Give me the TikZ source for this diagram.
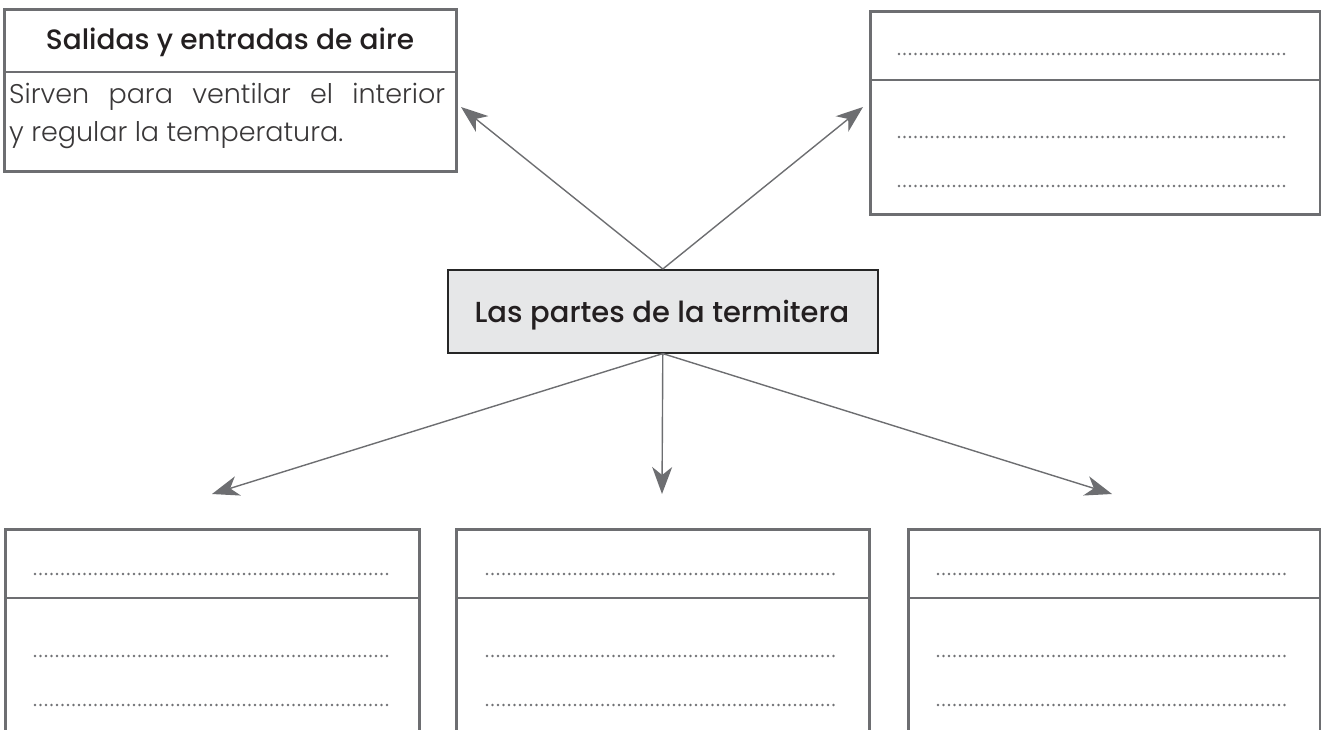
\documentclass[tikz,border=0pt]{standalone}
\usepackage{fontspec}
\setmainfont{Poppins}
\IfFontExistsTF{Poppins Light}{\newfontfamily\lightfont{Poppins Light}}{%
  \IfFontExistsTF{Poppins-Light}{\newfontfamily\lightfont{Poppins-Light}}{\newfontfamily\lightfont{Poppins}}}
\IfFontExistsTF{Poppins Medium}{\newfontfamily\midfont{Poppins Medium}}{%
  \IfFontExistsTF{Poppins-Medium}{\newfontfamily\midfont{Poppins-Medium}}{\newfontfamily\midfont{Poppins}}}
\usetikzlibrary{arrows.meta}
\definecolor{linegray}{HTML}{6D6E71}
\definecolor{dotgray}{HTML}{707174}
\definecolor{boxfill}{HTML}{E6E7E8}
\definecolor{textdark}{HTML}{231F20}
\definecolor{textsoft}{HTML}{3A3839}
\tikzset{
    box/.style={draw=linegray, line width=2.8pt, anchor=north west, inner sep=0pt},
    rule/.style={linegray, line width=2.8pt},
    conn/.style={draw=linegray, line width=1.4pt, -{Stealth[length=27pt,width=20pt,inset=8pt]}},
    dots/.style={dotgray, line width=2.8pt, line cap=round, dash pattern=on 0pt off 5.5pt},
    head/.style={anchor=base, inner sep=0pt, text=textdark, font=\midfont\fontsize{28}{32}\selectfont},
    body/.style={anchor=base west, inner sep=0pt, text=textsoft, font=\lightfont\fontsize{27}{32}\selectfont}
}
\begin{document}
\begin{tikzpicture}[x=1pt,y=-1pt]
    \useasboundingbox (0,0) rectangle (1321,729);
    \clip (0,0) rectangle (1321,729);
    % upper boxes
    \node [box, minimum width=452pt, minimum height=162pt] (aire) at (3,8) {};
    \draw [rule] (3,72) -- (455,72);
    \node [head] (aireT) at (230,49) {Salidas y entradas de aire};
    \node [body] (aireA) at (9,103) {\makebox[436pt][s]{Sirven para ventilar el interior}};
    \node [body] (aireB) at (9,141) {y regular la temperatura.};
    \node [box, minimum width=450pt, minimum height=203pt] (otra) at (869,10) {};
    \draw [rule] (869,80) -- (1319,80);
    \draw [dots] (899,54) -- (1288,54);
    \draw [dots] (899,137) -- (1288,137);
    \draw [dots] (899,186) -- (1288,186);
    % centre
    \node [box, fill=boxfill, line width=1.6pt, draw=black!85, minimum width=430pt, minimum height=83pt] (centro) at (447,269) {};
    \node [head, font=\midfont\fontsize{29}{34}\selectfont] (centroT) at (662,322) {Las partes de la termitera};
    % lower boxes
    \node [box, minimum width=414pt, minimum height=300pt] (parteA) at (4,528) {};
    \draw [rule] (4,598) -- (418,598);
    \draw [dots] (35,574) -- (387,574);
    \draw [dots] (35,656) -- (387,656);
    \draw [dots] (35,705) -- (387,705);
    \node [box, minimum width=413pt, minimum height=300pt] (parteB) at (455,528) {};
    \draw [rule] (455,598) -- (868,598);
    \draw [dots] (487,574) -- (837,574);
    \draw [dots] (487,656) -- (837,656);
    \draw [dots] (487,705) -- (837,705);
    \node [box, minimum width=412pt, minimum height=300pt] (parteC) at (907,528) {};
    \draw [rule] (907,598) -- (1319,598);
    \draw [dots] (938,574) -- (1288,574);
    \draw [dots] (938,656) -- (1288,656);
    \draw [dots] (938,705) -- (1288,705);
    % arrows
    \coordinate (tipA) at (461,107);
    \coordinate (tipB) at (863,107);
    \coordinate (tipC) at (212,494);
    \coordinate (tipD) at (662,494);
    \coordinate (tipE) at (1112,494);
    \draw [conn] (centro.north) -- (tipA);
    \draw [conn] (centro.north) -- (tipB);
    \draw [conn] (centro.south) -- (tipC);
    \draw [conn] (centro.south) -- (tipD);
    \draw [conn] (centro.south) -- (tipE);
\end{tikzpicture}
\end{document}
